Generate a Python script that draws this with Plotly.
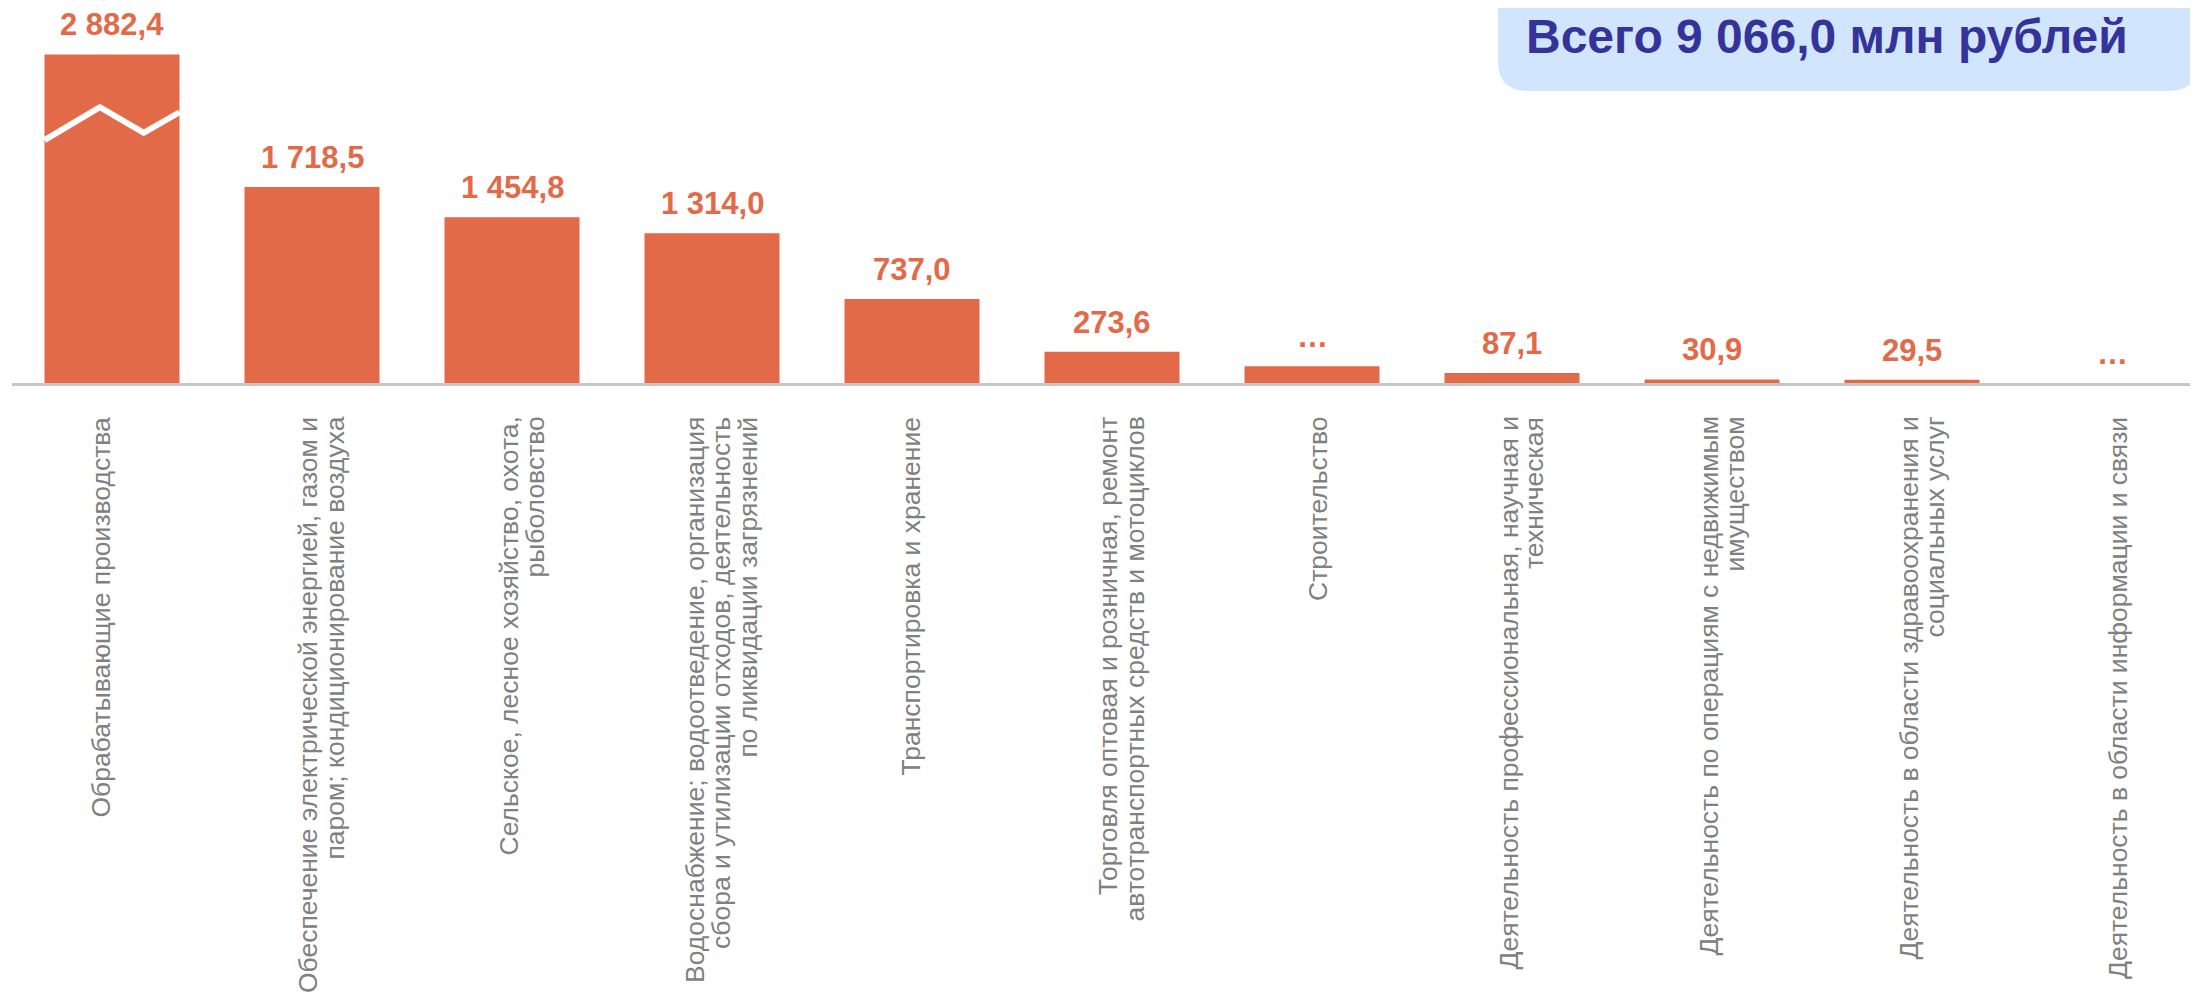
import plotly.graph_objects as go

# ---------------- data ----------------
category_lines = [
    ["Обрабатывающие производства"],
    ["Обеспечение электрической энергией, газом и", "паром; кондиционирование воздуха"],
    ["Сельское, лесное хозяйство, охота,", "рыболовство"],
    ["Водоснабжение; водоотведение, организация", "сбора и утилизации отходов, деятельность",
     "по ликвидации загрязнений"],
    ["Транспортировка и хранение"],
    ["Торговля оптовая и розничная, ремонт", "автотранспортных средств и мотоциклов"],
    ["Строительство"],
    ["Деятельность профессиональная, научная и", "техническая"],
    ["Деятельность по операциям с недвижимым", "имуществом"],
    ["Деятельность в области здравоохранения и", "социальных услуг"],
    ["Деятельность в области информации и связи"],
]
# values in mln rubles; confidential values shown as "…" (bar height)
values = [2882.4, 1718.5, 1454.8, 1314.0, 737.0, 273.6, 148.0, 87.1, 30.9, 29.5, 0.0]
confidential = [False, False, False, False, False, False, True, False, False, False, True]
total_label = "Всего 9 066,0 млн рублей"

# decorative axis-break zigzag on the first bar (fraction of bar half-width, value level)
break_x_frac = [-1.0, -0.18, 0.47, 1.0]
break_y_vals = [2130, 2420, 2195, 2375]

# ---------------- style ----------------
W, H = 2190, 988          # page body adds an 8px margin
ML, MR, MT, MB = 4, 0, 0, 613
PX_PER_UNIT = 0.114
CAT_PX = 200
BAR_W = 0.675
BAR_COLOR = "#E36A48"
LABEL_COLOR = "#E36A48"
TICK_COLOR = "#808080"
TITLE_COLOR = "#35339A"
BOX_COLOR = "#D1E6FD"
FONT = "Liberation Sans, Arial"
TICK_SIZE = 26.5
LINE_PITCH = 26
LABEL_TOP = 408
LABEL_SHIFT = 9
label_nudge_px = [-21, 0, 0, 0, -11, 0, -3, 0, 0, 0, -3]   # per-label horizontal nudge (style)

plot_w = W - ML - MR
plot_h = H - MT - MB
y_max = plot_h / PX_PER_UNIT
x_max = -0.5 + plot_w / CAT_PX
n = len(values)


def fmt(v):
    return f"{v:,.1f}".replace(",", " ").replace(".", ",")


labels = ["…" if c else fmt(v) for v, c in zip(values, confidential)]


def px2paper_x(px):
    return (px - ML) / plot_w


def px2paper_y(py):
    return (MT + plot_h - py) / plot_h


fig = go.Figure()
fig.add_trace(go.Bar(
    x=list(range(n)), y=values,
    marker=dict(color=BAR_COLOR, line=dict(width=0)),
    width=BAR_W, hoverinfo="skip",
))

# zigzag break on first bar
half = BAR_W / 2
fig.add_trace(go.Scatter(
    x=[0 + f * half for f in break_x_frac], y=break_y_vals,
    mode="lines", line=dict(color="white", width=6), hoverinfo="skip",
    cliponaxis=False,
))

annotations = []
for i, (v, t) in enumerate(zip(values, labels)):
    annotations.append(dict(
        x=i, y=v, xref="x", yref="y", text=f"<b>{t}</b>", showarrow=False,
        xanchor="center", yanchor="bottom", yshift=10,
        font=dict(family=FONT, size=31, color=LABEL_COLOR),
    ))

# category labels, rotated, one annotation per line for tight line spacing
for i, lines in enumerate(category_lines):
    k = len(lines)
    for j, line in enumerate(lines):
        off_px = LABEL_SHIFT + label_nudge_px[i] + (j - (k - 1) / 2) * LINE_PITCH
        annotations.append(dict(
            x=i + off_px / CAT_PX, y=px2paper_y(LABEL_TOP), xref="x", yref="paper",
            text=line, showarrow=False, textangle=-90,
            xanchor="center", yanchor="top", borderpad=0,
            font=dict(family=FONT, size=TICK_SIZE, color=TICK_COLOR),
        ))

# title box with rounded bottom corners
L_, R_, T_, B_ = 1490, 2191, -60, 83
r = 30
xl, xr = px2paper_x(L_), px2paper_x(R_)
yt, yb = px2paper_y(T_), px2paper_y(B_)
rx = r / plot_w
ry = r / plot_h
path = (f"M {xl},{yt} L {xl},{yb + ry} Q {xl},{yb} {xl + rx},{yb} "
        f"L {xr - rx},{yb} Q {xr},{yb} {xr},{yb + ry} L {xr},{yt} Z")
shapes = [dict(type="path", path=path, xref="paper", yref="paper",
               fillcolor=BOX_COLOR, line=dict(width=0), layer="below")]

annotations.append(dict(
    x=px2paper_x(1819), y=px2paper_y(1), xref="paper", yref="paper",
    text=f"<b>{total_label}</b>", showarrow=False, xanchor="center", yanchor="top",
    borderpad=0,
    font=dict(family=FONT, size=48, color=TITLE_COLOR),
))

fig.update_layout(
    width=W, height=H,
    margin=dict(l=ML, r=MR, t=MT, b=MB, autoexpand=False),
    paper_bgcolor="white", plot_bgcolor="white",
    showlegend=False,
    annotations=annotations, shapes=shapes,
    xaxis=dict(
        range=[-0.5, x_max], tickmode="array", tickvals=list(range(n)),
        showticklabels=False, ticks="",
        showline=True, linecolor="#C6C6C6", linewidth=3,
        showgrid=False, zeroline=False, automargin=False, fixedrange=True,
    ),
    yaxis=dict(range=[0, y_max], visible=False, fixedrange=True),
)

fig.write_html("out.html")
